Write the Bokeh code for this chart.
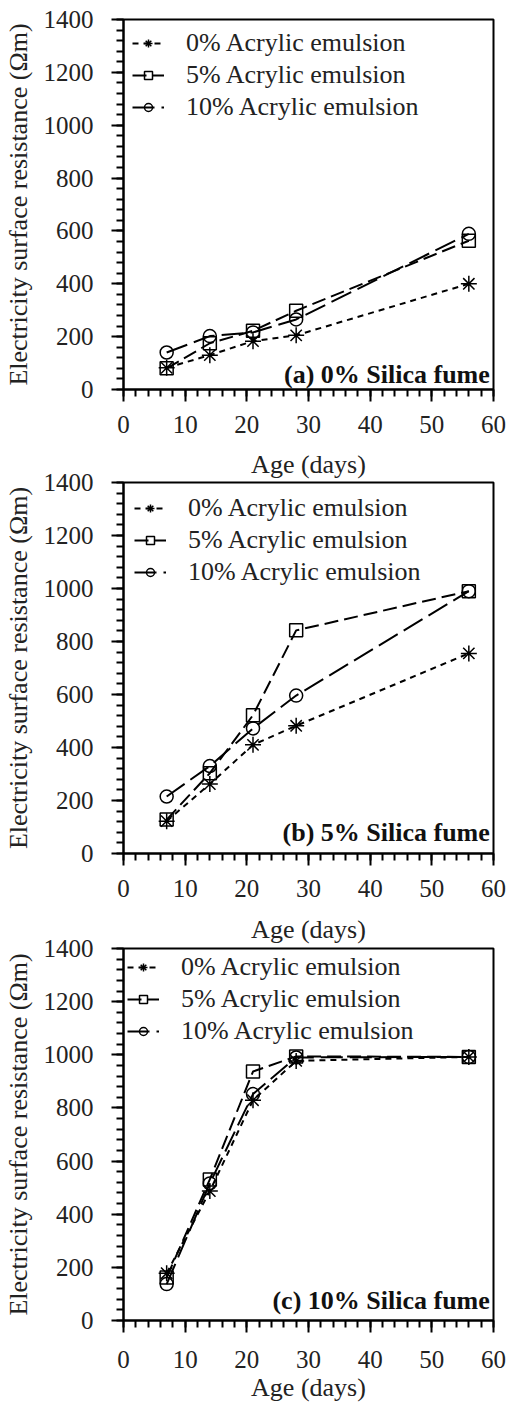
from bokeh.plotting import figure
from bokeh.layouts import column
from bokeh.models import FixedTicker, Label, Legend, LegendItem, Title
from bokeh.embed import file_html
from bokeh.resources import INLINE

# ---------------- data ----------------
ages = [7, 14, 21, 28, 56]
series_names = ["0% Acrylic emulsion", "5% Acrylic emulsion", "10% Acrylic emulsion"]
panel_titles = ["(a) 0% Silica fume", "(b) 5% Silica fume", "(c) 10% Silica fume"]

# (a) 0% silica fume
sf0_ae0 = [82, 130, 183, 205, 400]
sf0_ae5 = [80, 175, 222, 298, 563]
sf0_ae10 = [140, 202, 216, 265, 589]
# (b) 5% silica fume
sf5_ae0 = [122, 262, 410, 482, 755]
sf5_ae5 = [128, 303, 522, 842, 990]
sf5_ae10 = [215, 330, 472, 596, 990]
# (c) 10% silica fume
sf10_ae0 = [178, 487, 829, 977, 992]
sf10_ae5 = [162, 531, 937, 994, 992]
sf10_ae10 = [137, 516, 852, 990, 992]

panels = [
    [sf0_ae0, sf0_ae5, sf0_ae10],
    [sf5_ae0, sf5_ae5, sf5_ae10],
    [sf10_ae0, sf10_ae5, sf10_ae10],
]

x_ticks = [0, 10, 20, 30, 40, 50, 60]
y_ticks = [0, 200, 400, 600, 800, 1000, 1200, 1400]
x_label = "Age (days)"
y_label = "Electricity surface resistance (\u03a9m)"

# ---------------- styles ----------------
FONT = "Liberation Serif"
TXT = "#222222"
markers = ["asterisk", "square", "circle"]
marker_sizes = [16, 13, 13]
dashes = ["6 5", "14 6", "22 7"]
# The "Age (days)" caption of the panel above is drawn in the top band of the
# next panel so that the tight spacing of the original can be reproduced.
layout = [
    dict(h=443, top=19, bottom=54, ty=58, lm=9, cap_above=None, xs=14),
    dict(h=464, top=39, bottom=54, ty=78, lm=11, cap_above=7, xs=14),
    dict(h=498, top=41, bottom=85, ty=76, lm=4, cap_above=9, xs=18),
]

figs = []
for idx, (vals, title, lay) in enumerate(zip(panels, panel_titles, layout)):
    p = figure(width=507, height=lay["h"], x_range=(0, 60), y_range=(0, 1400),
               output_backend="svg", toolbar_location=None, title=None,
               min_border_left=123, min_border_right=14,
               min_border_top=lay["top"], min_border_bottom=lay["bottom"])
    p.outline_line_color = "black"
    p.outline_line_width = 2
    p.grid.visible = False
    p.background_fill_color = "white"
    p.border_fill_color = "white"

    p.xaxis.ticker = FixedTicker(ticks=x_ticks, minor_ticks=list(range(0, 61, 2)))
    p.yaxis.ticker = FixedTicker(ticks=y_ticks, minor_ticks=list(range(0, 1401, 40)))
    for ax in (p.xaxis[0], p.yaxis[0]):
        ax.axis_line_color = "black"
        ax.axis_line_width = 2
        ax.major_tick_line_color = "black"
        ax.major_tick_line_width = 2
        ax.minor_tick_line_color = "black"
        ax.minor_tick_line_width = 2
        ax.major_tick_in = 0
        ax.minor_tick_in = 0
        ax.major_tick_out = 12
        ax.minor_tick_out = 7
        ax.major_label_text_font = FONT
        ax.major_label_text_font_size = "25px"
        ax.major_label_text_color = TXT
        ax.axis_label_text_font = FONT
        ax.axis_label_text_font_size = "26px"
        ax.axis_label_text_font_style = "normal"
        ax.axis_label_text_color = TXT
    p.xaxis.major_label_standoff = lay["xs"]
    if idx == len(panels) - 1:
        p.xaxis.axis_label = x_label
        p.xaxis.axis_label_standoff = 2
    p.yaxis.major_label_standoff = 18
    p.yaxis.axis_label = y_label
    p.yaxis.axis_label_standoff = 8

    if lay["cap_above"] is not None:
        p.add_layout(Title(text=x_label, align="center", text_font=FONT,
                           text_font_size="26px", text_font_style="normal",
                           text_color=TXT, standoff=lay["cap_above"]), "above")

    items = []
    for k in range(3):
        ln = p.line(ages, vals[k], line_color="black", line_width=2, line_dash=dashes[k])
        sc = p.scatter(ages, vals[k], marker=markers[k], size=marker_sizes[k],
                       line_color="black", line_width=1.5, fill_color=None)
        items.append(LegendItem(label=series_names[k], renderers=[ln, sc]))

    leg = Legend(items=items, location="top_left")
    leg.border_line_color = None
    leg.background_fill_alpha = 0
    leg.label_text_font = FONT
    leg.label_text_font_size = "26px"
    leg.label_text_color = TXT
    leg.glyph_width = 32
    leg.label_standoff = 22
    leg.spacing = 2
    leg.margin = lay["lm"]
    leg.padding = 4
    p.add_layout(leg)

    p.add_layout(Label(x=59.4, y=lay["ty"], text=title, text_align="right",
                       text_baseline="middle", text_font=FONT, text_font_size="26px",
                       text_font_style="bold", text_color="#111111"))
    figs.append(p)

open("out.html", "w").write(file_html(column(*figs, spacing=0), INLINE))
